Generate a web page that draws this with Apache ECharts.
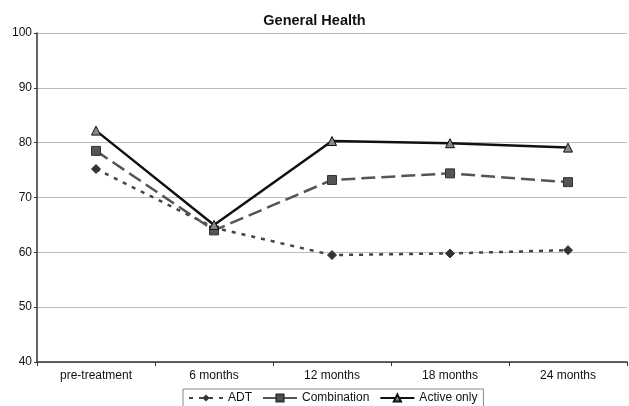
<!DOCTYPE html>
<html><head><meta charset="utf-8">
<script src="https://cdn.jsdelivr.net/npm/echarts@6/dist/echarts.min.js"></script>
<style>html,body{margin:0;padding:0;background:#fff}#c{width:629px;height:406px}</style>
</head><body><div id="c"></div>
<script>
var categories = ['pre-treatment', '6 months', '12 months', '18 months', '24 months'];
var adt = [75.2, 64.5, 59.5, 59.8, 60.4];
var combination = [78.5, 64.0, 73.2, 74.4, 72.8];
var activeOnly = [82.2, 65.0, 80.3, 79.9, 79.1];
var yTicks = [40, 50, 60, 70, 80, 90, 100];

var chart = echarts.init(document.getElementById('c'));
var font = 'Liberation Sans, Arial, sans-serif';
chart.setOption({
  animation: false,
  backgroundColor: '#fff',
  title: {
    text: 'General Health', left: 'center', top: 8,
    textStyle: {fontFamily: font, fontSize: 14.5, fontWeight: 'bold', color: '#111'}
  },
  legend: {
    bottom: -3, left: 183,
    itemGap: 10, itemWidth: 34, itemHeight: 9,
    borderColor: '#888', borderWidth: 1, padding: [3, 6, 5, 5],
    textStyle: {fontFamily: font, fontSize: 12, color: '#111'},
    data: ['ADT', 'Combination', 'Active only']
  },
  grid: {left: 37, right: 2, top: 33, bottom: 44, containLabel: false},
  xAxis: {
    type: 'category', data: categories, boundaryGap: true,
    axisLine: {lineStyle: {color: '#333', width: 1.5}},
    axisTick: {show: true, lineStyle: {color: '#333'}, length: 4},
    axisLabel: {fontFamily: font, fontSize: 12, color: '#111', margin: 8}
  },
  yAxis: {
    type: 'value', min: yTicks[0], max: yTicks[yTicks.length - 1], interval: 10,
    axisLine: {show: true, lineStyle: {color: '#333', width: 1.5}},
    axisTick: {show: true, lineStyle: {color: '#333'}, length: 3},
    axisLabel: {fontFamily: font, fontSize: 12, color: '#111', margin: 5},
    splitLine: {lineStyle: {color: '#bbb', width: 1}}
  },
  series: [
    {
      name: 'ADT', type: 'line', data: adt,
      symbol: 'diamond', symbolSize: 9,
      lineStyle: {color: '#444', width: 2.5, type: [4, 6]},
      itemStyle: {color: '#333', borderColor: '#333'}
    },
    {
      name: 'Combination', type: 'line', data: combination,
      symbol: 'rect', symbolSize: 9,
      lineStyle: {color: '#555', width: 2.5, type: [14, 6]},
      itemStyle: {color: '#555', borderColor: '#333', borderWidth: 1}
    },
    {
      name: 'Active only', type: 'line', data: activeOnly,
      symbol: 'triangle', symbolSize: 9,
      lineStyle: {color: '#111', width: 2.5},
      itemStyle: {color: '#888', borderColor: '#111', borderWidth: 1}
    }
  ]
});
</script></body></html>
